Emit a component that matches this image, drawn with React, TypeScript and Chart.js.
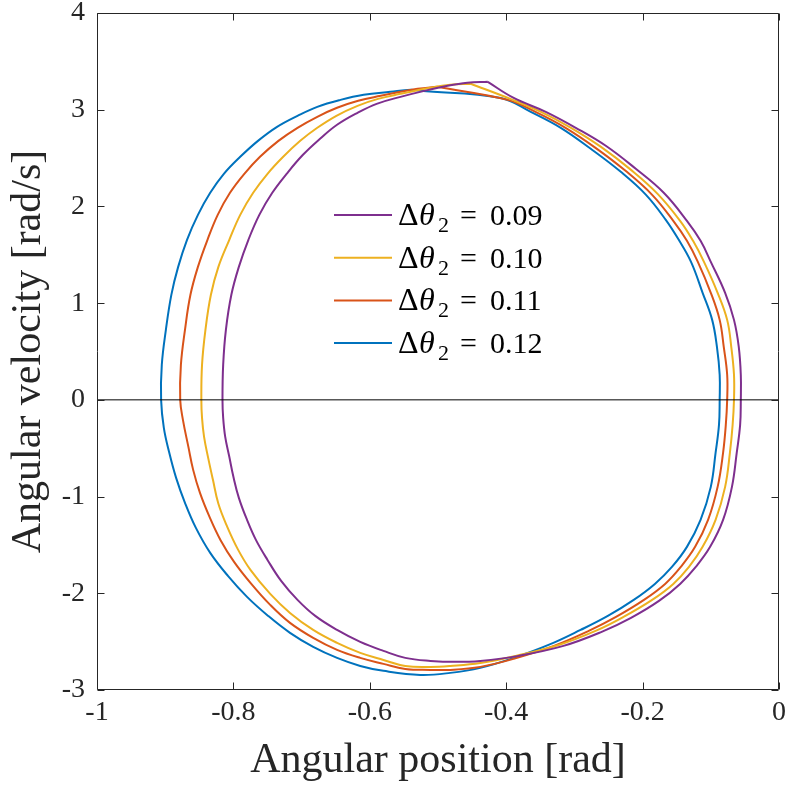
import React, { useEffect, useRef } from "react";
import { Chart, registerables } from "chart.js";

Chart.register(...registerables);

// ---- data ----
const seriesLabels = ["0.09", "0.10", "0.11", "0.12"];
const seriesColors = ["#7E2F8E", "#EDB120", "#D95319", "#0072BD"];

const x009 = [-0.427, -0.389, -0.342, -0.298, -0.254, -0.210, -0.169, -0.135, -0.115, -0.100, -0.079, -0.066, -0.059, -0.056, -0.056, -0.057, -0.062, -0.069, -0.082, -0.101, -0.122, -0.145, -0.176, -0.217, -0.260, -0.316, -0.382, -0.438, -0.474, -0.511, -0.548, -0.580, -0.614, -0.648, -0.680, -0.706, -0.730, -0.750, -0.767, -0.780, -0.792, -0.800, -0.806, -0.812, -0.815, -0.816, -0.815, -0.811, -0.803, -0.792, -0.778, -0.762, -0.743, -0.722, -0.698, -0.673, -0.648, -0.618, -0.590, -0.555, -0.520, -0.486, -0.457, -0.427];
const y009 = [3.288, 3.122, 2.978, 2.813, 2.627, 2.389, 2.141, 1.851, 1.644, 1.427, 1.107, 0.827, 0.548, 0.259, 0, -0.259, -0.548, -0.900, -1.241, -1.520, -1.727, -1.903, -2.079, -2.254, -2.399, -2.544, -2.647, -2.699, -2.709, -2.699, -2.668, -2.596, -2.503, -2.379, -2.234, -2.068, -1.872, -1.655, -1.448, -1.241, -1.013, -0.796, -0.589, -0.383, -0.186, 0, 0.362, 0.724, 1.086, 1.375, 1.655, 1.913, 2.141, 2.337, 2.534, 2.699, 2.844, 2.968, 3.061, 3.133, 3.195, 3.247, 3.278, 3.288];

const x010 = [-0.452, -0.394, -0.349, -0.305, -0.261, -0.217, -0.178, -0.145, -0.126, -0.110, -0.090, -0.076, -0.070, -0.066, -0.066, -0.068, -0.072, -0.079, -0.093, -0.112, -0.132, -0.155, -0.186, -0.228, -0.269, -0.323, -0.386, -0.438, -0.482, -0.511, -0.548, -0.580, -0.614, -0.648, -0.683, -0.717, -0.746, -0.775, -0.793, -0.809, -0.822, -0.830, -0.837, -0.843, -0.846, -0.847, -0.846, -0.841, -0.833, -0.822, -0.806, -0.790, -0.771, -0.750, -0.727, -0.702, -0.677, -0.649, -0.618, -0.588, -0.555, -0.511, -0.482, -0.452];
const y010 = [3.268, 3.112, 2.978, 2.813, 2.616, 2.378, 2.130, 1.851, 1.644, 1.427, 1.107, 0.827, 0.548, 0.259, 0, -0.259, -0.548, -0.900, -1.241, -1.520, -1.727, -1.903, -2.068, -2.244, -2.389, -2.534, -2.647, -2.720, -2.751, -2.761, -2.751, -2.689, -2.616, -2.513, -2.379, -2.203, -2.006, -1.758, -1.551, -1.313, -1.075, -0.827, -0.600, -0.383, -0.186, 0, 0.362, 0.724, 1.086, 1.375, 1.655, 1.913, 2.141, 2.337, 2.513, 2.678, 2.813, 2.937, 3.040, 3.112, 3.164, 3.226, 3.257, 3.268];

const x011 = [-0.501, -0.398, -0.357, -0.313, -0.269, -0.225, -0.186, -0.155, -0.135, -0.119, -0.100, -0.087, -0.081, -0.076, -0.076, -0.078, -0.082, -0.090, -0.104, -0.123, -0.144, -0.167, -0.198, -0.239, -0.279, -0.330, -0.389, -0.438, -0.482, -0.511, -0.548, -0.580, -0.614, -0.648, -0.683, -0.717, -0.746, -0.775, -0.799, -0.819, -0.835, -0.849, -0.859, -0.866, -0.874, -0.878, -0.877, -0.871, -0.863, -0.852, -0.838, -0.823, -0.805, -0.784, -0.761, -0.734, -0.706, -0.677, -0.648, -0.617, -0.584, -0.555, -0.530, -0.501];
const y011 = [3.237, 3.102, 2.978, 2.813, 2.606, 2.368, 2.120, 1.851, 1.645, 1.427, 1.107, 0.827, 0.548, 0.259, 0, -0.259, -0.548, -0.900, -1.241, -1.520, -1.727, -1.903, -2.068, -2.244, -2.389, -2.544, -2.678, -2.761, -2.792, -2.792, -2.782, -2.730, -2.668, -2.585, -2.461, -2.306, -2.120, -1.892, -1.675, -1.448, -1.210, -0.962, -0.724, -0.486, -0.207, 0, 0.362, 0.724, 1.086, 1.375, 1.655, 1.913, 2.141, 2.337, 2.513, 2.678, 2.813, 2.927, 3.020, 3.092, 3.144, 3.185, 3.216, 3.237];

const x012 = [-0.526, -0.408, -0.364, -0.320, -0.276, -0.232, -0.195, -0.166, -0.147, -0.129, -0.112, -0.098, -0.091, -0.087, -0.087, -0.088, -0.093, -0.100, -0.115, -0.135, -0.157, -0.182, -0.213, -0.251, -0.291, -0.338, -0.389, -0.438, -0.482, -0.526, -0.580, -0.614, -0.648, -0.683, -0.717, -0.749, -0.780, -0.808, -0.834, -0.855, -0.871, -0.884, -0.894, -0.902, -0.906, -0.905, -0.899, -0.891, -0.881, -0.868, -0.852, -0.834, -0.814, -0.790, -0.764, -0.736, -0.706, -0.677, -0.643, -0.609, -0.570, -0.540, -0.526];
const y012 = [3.195, 3.122, 2.978, 2.813, 2.596, 2.358, 2.120, 1.861, 1.655, 1.427, 1.107, 0.827, 0.548, 0.259, 0, -0.259, -0.548, -0.900, -1.241, -1.520, -1.727, -1.903, -2.068, -2.234, -2.379, -2.534, -2.668, -2.771, -2.823, -2.844, -2.802, -2.751, -2.668, -2.554, -2.409, -2.234, -2.037, -1.820, -1.582, -1.324, -1.065, -0.807, -0.548, -0.290, 0, 0.362, 0.724, 1.086, 1.375, 1.655, 1.913, 2.141, 2.337, 2.513, 2.678, 2.823, 2.937, 3.030, 3.102, 3.154, 3.185, 3.206, 3.195];

const seriesX = [x009, x010, x011, x012];
const seriesY = [y009, y010, y011, y012];

const zeroLineX = [-1, 0];
const zeroLineY = [0, 0];

const xTickValues = [-1, -0.8, -0.6, -0.4, -0.2, 0];
const xTickLabels = ["-1", "-0.8", "-0.6", "-0.4", "-0.2", "0"];
const yTickValues = [-3, -2, -1, 0, 1, 2, 3, 4];
const yTickLabels = ["-3", "-2", "-1", "0", "1", "2", "3", "4"];

const xTitle = "Angular position [rad]";
const yTitle = "Angular velocity [rad/s]";

const FONT = "'Liberation Serif', 'Times New Roman', serif";
const AXIS_COLOR = "#262626";

const framePlugin = {
  id: "matlabFrame",
  afterDatasetsDraw(chart: any) {
    const { ctx, chartArea, scales } = chart;
    const { left, right, top, bottom } = chartArea;
    const xs = scales.x;
    const ys = scales.y;
    ctx.save();
    ctx.strokeStyle = AXIS_COLOR;
    ctx.lineWidth = 1;
    const L = Math.round(left) + 0.5;
    const R = Math.round(right) - 0.5;
    const T = Math.round(top) + 0.5;
    const B = Math.round(bottom) - 0.5;
    ctx.beginPath();
    ctx.moveTo(L, T);
    ctx.lineTo(R, T);
    ctx.lineTo(R, B);
    ctx.lineTo(L, B);
    ctx.closePath();
    ctx.stroke();
    const tl = 7;
    ctx.beginPath();
    xTickValues.forEach((v) => {
      const px = Math.round(xs.getPixelForValue(v)) + 0.5;
      ctx.moveTo(px, B);
      ctx.lineTo(px, B - tl);
      ctx.moveTo(px, T);
      ctx.lineTo(px, T + tl);
    });
    yTickValues.forEach((v) => {
      const py = Math.round(ys.getPixelForValue(v)) + 0.5;
      ctx.moveTo(L, py);
      ctx.lineTo(L + tl, py);
      ctx.moveTo(R, py);
      ctx.lineTo(R - tl, py);
    });
    ctx.stroke();

    // legend (no box), drawn inside the axes
    const lineX0 = left + 237;
    const lineX1 = left + 295;
    const row0 = top + 202;
    const rowGap = 42.7;
    seriesLabels.forEach((lab, i) => {
      const ry = row0 + i * rowGap;
      ctx.strokeStyle = seriesColors[i];
      ctx.lineWidth = 2;
      ctx.beginPath();
      ctx.moveTo(lineX0, ry);
      ctx.lineTo(lineX1, ry);
      ctx.stroke();
      ctx.fillStyle = "#000000";
      ctx.textBaseline = "alphabetic";
      ctx.textAlign = "left";
      const base = ry + 10;
      const sx = lineX1 + 6;
      ctx.font = `32px ${FONT}`;
      ctx.fillText("Δ", sx, base);
      ctx.font = `italic 32px ${FONT}`;
      ctx.fillText("θ", sx + 21, base);
      ctx.font = `22px ${FONT}`;
      ctx.fillText("2", sx + 40, base + 7);
      ctx.font = `30px ${FONT}`;
      ctx.fillText("=", sx + 62, base);
      ctx.fillText(lab, sx + 92, base);
    });
    ctx.restore();
  },
};

export default function App() {
  const canvasRef = useRef<HTMLCanvasElement | null>(null);

  useEffect(() => {
    const canvas = canvasRef.current;
    if (!canvas) return;

    const curveSets = seriesLabels.map((lab, i) => ({
      label: lab,
      data: seriesX[i].map((x, k) => ({ x, y: seriesY[i][k] })),
      borderColor: seriesColors[i],
      backgroundColor: seriesColors[i],
      borderWidth: 2,
      pointRadius: 0,
      showLine: true,
      tension: 0.4,
      fill: false,
    }));

    const zeroSet = {
      label: "zero",
      data: zeroLineX.map((x, k) => ({ x, y: zeroLineY[k] })),
      borderColor: "#000000",
      backgroundColor: "#000000",
      borderWidth: 1,
      pointRadius: 0,
      showLine: true,
      tension: 0,
      fill: false,
    };

    const chart = new Chart(canvas, {
      type: "scatter",
      data: { datasets: [zeroSet, ...curveSets] as any },
      plugins: [framePlugin as any],
      options: {
        animation: false,
        responsive: false,
        maintainAspectRatio: false,
        layout: { padding: { top: 13, right: 10, left: 0, bottom: 0 } },
        plugins: {
          legend: { display: false },
          tooltip: { enabled: false },
        },
        scales: {
          x: {
            type: "linear",
            min: -1,
            max: 0,
            afterBuildTicks: (s: any) => {
              s.ticks = xTickValues.map((v) => ({ value: v }));
            },
            afterFit: (s: any) => {
              s.height = 99;
              s.paddingLeft = 0;
              s.paddingRight = 0;
            },
            grid: { display: false, drawTicks: false },
            border: { display: false },
            ticks: {
              autoSkip: false,
              maxRotation: 0,
              padding: 6,
              color: AXIS_COLOR,
              font: { family: FONT, size: 28 },
              callback: (v: any) => xTickLabels[xTickValues.indexOf(Number(v))] ?? "",
            },
            title: {
              display: true,
              text: xTitle,
              color: AXIS_COLOR,
              font: { family: FONT, size: 42 },
              padding: { top: 0, bottom: 3 },
            },
          },
          y: {
            type: "linear",
            min: -3,
            max: 4,
            afterBuildTicks: (s: any) => {
              s.ticks = yTickValues.map((v) => ({ value: v }));
            },
            afterFit: (s: any) => {
              s.width = 97;
              s.paddingTop = 0;
              s.paddingBottom = 0;
            },
            grid: { display: false, drawTicks: false },
            border: { display: false },
            ticks: {
              autoSkip: false,
              padding: 12,
              color: AXIS_COLOR,
              font: { family: FONT, size: 28 },
              callback: (v: any) => yTickLabels[yTickValues.indexOf(Number(v))] ?? "",
            },
            title: {
              display: true,
              text: yTitle,
              color: AXIS_COLOR,
              font: { family: FONT, size: 42 },
              padding: { top: 4, bottom: 0 },
            },
          },
        },
      },
    });

    return () => {
      chart.destroy();
    };
  }, []);

  return (
    <div style={{ position: "fixed", left: 0, top: 0, width: 789, height: 789, background: "#ffffff" }}>
      <canvas ref={canvasRef} width={789} height={789} style={{ display: "block", width: 789, height: 789 }} />
    </div>
  );
}
